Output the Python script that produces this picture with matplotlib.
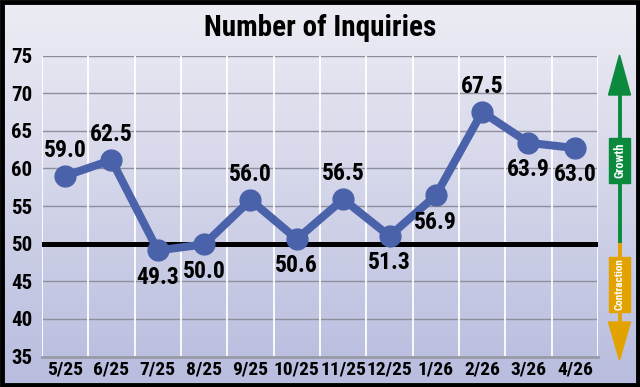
import numpy as np
import matplotlib
matplotlib.use("Agg")
import matplotlib.pyplot as plt
from matplotlib.patches import Polygon, Rectangle
from matplotlib import font_manager as fm

# ---- data ----
months = ["5/25", "6/25", "7/25", "8/25", "9/25", "10/25", "11/25", "12/25",
          "1/26", "2/26", "3/26", "4/26"]
plotted = [59.0, 61.1, 49.1, 49.9, 55.8, 50.6, 55.9, 51.0, 56.4, 67.5, 63.4, 62.7]
labels = ["59.0", "62.5", "49.3", "50.0", "56.0", "50.6", "56.5", "51.3",
          "56.9", "67.5", "63.9", "63.0"]
label_above = [True, True, False, False, True, False, True, False, False, True, False, False]
yticks = [35, 40, 45, 50, 55, 60, 65, 70, 75]
baseline = 50

installed = set(f.name for f in fm.fontManager.ttflist)
FONT = next((f for f in ["Roboto Condensed", "Barlow Condensed", "Asap Condensed",
                         "Archivo Narrow", "DejaVu Sans"] if f in installed), "DejaVu Sans")
plt.rcParams["font.family"] = [FONT, "DejaVu Sans"]
plt.rcParams["font.weight"] = "bold"

W, H = 640, 387
fig = plt.figure(figsize=(W / 100, H / 100), dpi=100)

# background gradient
bg = fig.add_axes([0, 0, 1, 1], zorder=-10)
top = np.array([237, 237, 244]) / 255
bot = np.array([184, 188, 222]) / 255
t = np.linspace(0, 1, 256)[:, None]
grad = top[None, :] * (1 - t) + bot[None, :] * t
bg.imshow(grad[:, None, :], aspect="auto", extent=[0, 1, 0, 1])
bg.set_axis_off()

ax = fig.add_axes([42 / W, 1 - 356.5 / H, 556 / W, (356.5 - 55.5) / H])
ax.patch.set_alpha(0)
x = np.arange(len(months))
ax.set_xlim(-0.5, len(months) - 0.5)
ax.set_ylim(35, 75)

for yv in yticks[1:]:
    if yv != baseline:
        ax.axhline(yv, color="#8e8e9c", lw=1.0, zorder=1)
for xv in np.arange(-0.5, len(months), 1.0):
    ax.axvline(xv, color="white", lw=1.3, zorder=1.5)
ax.axhline(baseline, color="black", lw=3.6, zorder=2)

line_color = "#4a62aa"
ax.plot(x, plotted, color=line_color, lw=5.8, marker="o", markersize=15,
        solid_capstyle="round", zorder=3)

for xi, yi, lab, up in zip(x, plotted, labels, label_above):
    ax.annotate(lab, (xi, yi), xytext=(0, 10 if up else -11), textcoords="offset points",
                ha="center", va="bottom" if up else "top", fontsize=17,
                fontweight="bold", color="black", zorder=4)

ax.set_yticks(yticks)
ax.set_yticklabels([str(v) for v in yticks])
ax.set_xticks(x)
ax.set_xticklabels(months)
ax.tick_params(axis="y", length=0, labelsize=15, pad=7)
ax.tick_params(axis="x", length=0, labelsize=14, pad=3)
for s in ["top", "right", "left"]:
    ax.spines[s].set_visible(False)
ax.spines["bottom"].set_color("#9a9aa6")
ax.spines["bottom"].set_linewidth(2)
ax.grid(False)

# title
fig.text(0.5, 1 - 28 / H, "Number of Inquiries", ha="center", va="center",
         fontsize=21, fontweight="bold", color="black")

# overlay in pixel coordinates for arrow + frame
ov = fig.add_axes([0, 0, 1, 1], zorder=5)
ov.set_xlim(0, W)
ov.set_ylim(H, 0)
ov.set_axis_off()
ov.patch.set_alpha(0)

green = "#0b8a3e"
orange = "#e2a300"
ax_x = 619.5
ov.plot([ax_x, ax_x], [95, 243], color=green, lw=2.8, solid_capstyle="butt")
ov.plot([ax_x, ax_x], [243, 322], color=orange, lw=2.8, solid_capstyle="butt")
ov.add_patch(Polygon([[ax_x, 55], [ax_x - 11, 95], [ax_x + 11, 95]], closed=True, color=green))
ov.add_patch(Polygon([[ax_x, 360], [ax_x - 11, 322], [ax_x + 11, 322]], closed=True, color=orange))
ov.add_patch(Rectangle((609, 138), 21, 45, color=green))
ov.add_patch(Rectangle((609, 257), 21, 55, color=orange))
ov.text(ax_x, 160.5, "Growth", rotation=90, ha="center", va="center", color="white",
        fontsize=9, fontweight="bold")
ov.text(ax_x, 284.5, "Contraction", rotation=90, ha="center", va="center", color="white",
        fontsize=8, fontweight="bold")

ov.add_patch(Rectangle((2, 2), W - 4, H - 4.5, fill=False, edgecolor="black", lw=3.5))

fig.savefig("out.png", dpi=100)
